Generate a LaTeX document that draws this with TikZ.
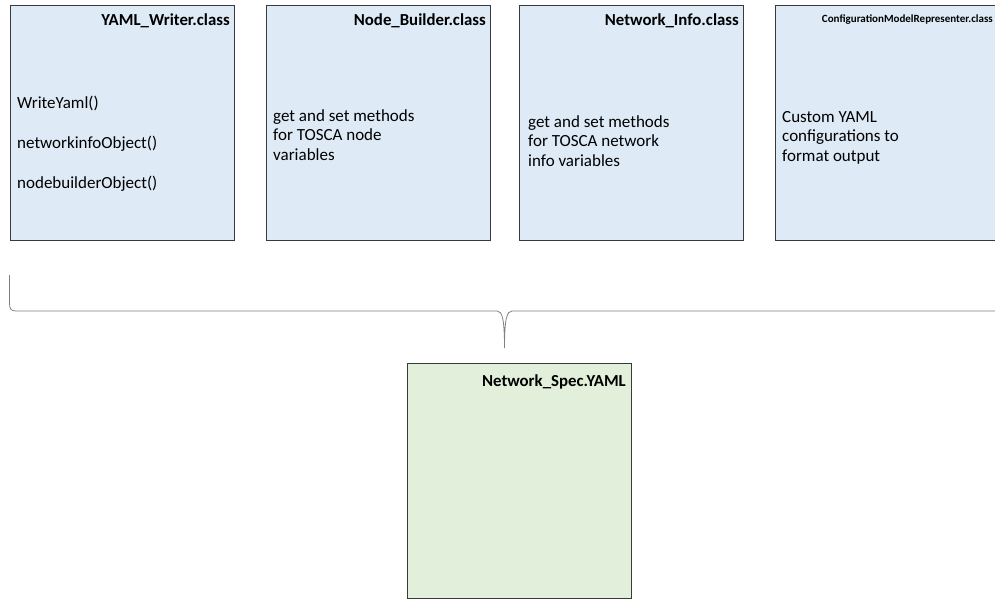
\documentclass[tikz,border=0pt]{standalone}
\usepackage{fontspec}
\setmainfont{Carlito}
\definecolor{boxblue}{HTML}{DEEAF6}
\definecolor{boxgreen}{HTML}{E2EFDA}
\definecolor{boxline}{HTML}{3A3A3A}
\definecolor{braceline}{HTML}{808080}
\begin{document}
\begin{tikzpicture}[x=1pt,y=-1pt,
  classbox/.style={draw=boxline,line width=0.9pt,rectangle,anchor=north west,
    minimum width=224pt,minimum height=235pt,inner sep=0pt,outer sep=0pt},
  bluebox/.style={classbox,fill=boxblue},
  greenbox/.style={classbox,fill=boxgreen},
  titletext/.style={anchor=base east,inner sep=0pt,font=\fontsize{16.8}{20}\selectfont\bfseries},
  smalltitle/.style={anchor=base east,inner sep=0pt,font=\fontsize{11}{13}\selectfont\bfseries},
  bodytext/.style={anchor=base west,inner sep=0pt,align=left,font=\fontsize{17}{19.8}\selectfont},
  bracestyle/.style={draw=braceline,line width=0.8pt}
]
\useasboundingbox (0,0) rectangle (995,599);
\clip (0,0) rectangle (995,599);

% boxes
\node[bluebox] (b1) at (10,5) {};
\node[bluebox] (b2) at (266,5) {};
\node[bluebox] (b3) at (519,5) {};
\node[bluebox] (b4) at (775,5) {};
\node[greenbox] (g1) at (407,363) {};

% titles
\node[titletext] (t1) at (230,26) {YAML\_Writer.class};
\node[titletext] (t2) at (486,26) {Node\_Builder.class};
\node[titletext] (t3) at (739,26) {Network\_Info.class};
\node[smalltitle] (t4) at (993,23) {ConfigurationModelRepresenter.class};
\node[titletext] (t5) at (626,386) {Network\_Spec.YAML};

% body texts (anchor base = baseline of last line)
\node[bodytext] (x1) at (17,188) {WriteYaml()\\[20.2pt]networkinfoObject()\\[20.2pt]nodebuilderObject()};
\node[bodytext] (x2) at (273,160.6) {get and set methods\\for TOSCA node\\variables};
\node[bodytext] (x3) at (528,166.6) {get and set methods\\for TOSCA network\\info variables};
\node[bodytext] (x4) at (782,161.6) {Custom YAML\\configurations to\\format output};

% brace
\coordinate (bl) at (9.5,275);
\coordinate (btip) at (504.5,348);
\coordinate (br) at (1010,275);
\draw[bracestyle] (bl) -- (9.5,303) .. controls (9.5,309) and (11,311) .. (16,311)
  -- (497,311) .. controls (502,311) and (504.5,318) .. (btip)
  .. controls (504.5,318) and (507,311) .. (512,311)
  -- (1003,311) .. controls (1008,311) and (1010,309) .. (1010,303) -- (br);
\end{tikzpicture}
\end{document}
